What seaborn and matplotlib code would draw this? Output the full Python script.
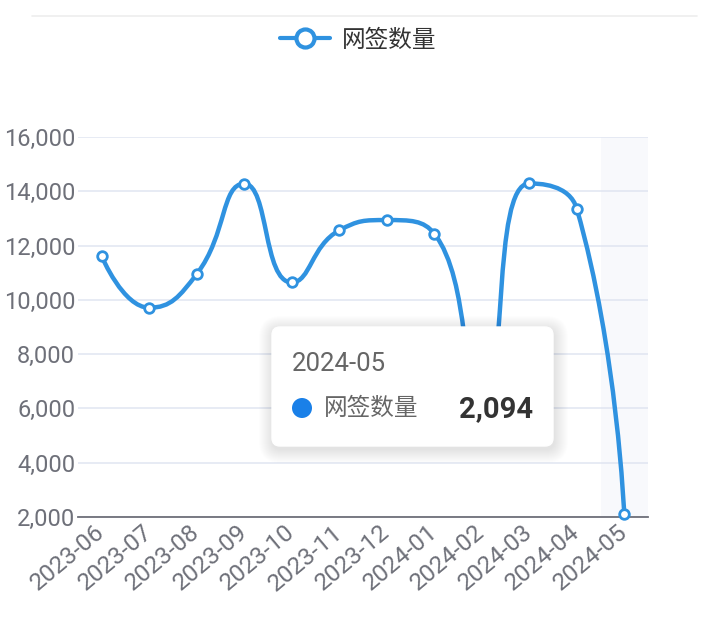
import numpy as np
import pandas as pd
import matplotlib
matplotlib.use("Agg")
import matplotlib.pyplot as plt
import seaborn as sns
from matplotlib.path import Path
from matplotlib.patches import PathPatch, FancyBboxPatch, Circle
from matplotlib.lines import Line2D

# ---------------- data ----------------
months = ["2023-06", "2023-07", "2023-08", "2023-09", "2023-10", "2023-11",
          "2023-12", "2024-01", "2024-02", "2024-03", "2024-04", "2024-05"]
counts = [11600, 9710, 10950, 14280, 10640, 12560,
          12940, 12440, 6400, 14290, 13360, 2094]
series_name = "网签数量"
y_ticks = [2000, 4000, 6000, 8000, 10000, 12000, 14000, 16000]
hover_index = 11

# ---------------- style ----------------
sns.set_theme(style="white")
plt.rcParams["font.family"] = ["Roboto", "Noto Sans CJK SC", "DejaVu Sans"]

LINE = "#2f92e0"
AXIS = "#6e7079"
GRID = "#e0e6f1"

W, H = 716, 635
fig = plt.figure(figsize=(W / 100, H / 100), dpi=100)
fig.patch.set_facecolor("white")

ax_l, ax_r, ax_t, ax_b = 78, 648, 137, 517
ax = fig.add_axes([ax_l / W, 1 - ax_b / H, (ax_r - ax_l) / W, (ax_b - ax_t) / H])
ax.set_facecolor("white")

df = pd.DataFrame({"idx": np.arange(len(months)), "month": months, "count": counts})

ax.set_xlim(-0.5, len(months) - 0.5)
ax.set_ylim(y_ticks[0], y_ticks[-1])

# axis pointer shadow
ax.axvspan(hover_index - 0.5, hover_index + 0.5, color=(0.88, 0.90, 0.95), alpha=0.22,
           lw=0, zorder=1)

# grid
ax.set_yticks(y_ticks)
ax.set_yticklabels([f"{v:,}" for v in y_ticks])
ax.yaxis.grid(True, color=GRID, lw=1.1, zorder=0.5)
ax.set_axisbelow(True)
ax.tick_params(axis="y", length=0, pad=2, labelsize=17, labelcolor=AXIS)

# x ticks: boundaries as major (marks), centers as minor (labels)
ax.set_xticks(np.arange(-0.5, len(months) + 0.5, 1.0))
ax.set_xticklabels([])
ax.set_xticks(np.arange(len(months)), minor=True)
ax.set_xticklabels(months, minor=True, rotation=40, ha="right", va="center",
                   rotation_mode="anchor")
ax.tick_params(axis="x", which="major", length=5, width=1.2, color=AXIS, direction="out")
ax.tick_params(axis="x", which="minor", length=0, pad=9, labelsize=17.5, labelcolor=AXIS)

for s in ["left", "right", "top"]:
    ax.spines[s].set_visible(False)
ax.spines["bottom"].set_color(AXIS)
ax.spines["bottom"].set_linewidth(1.3)
ax.spines["bottom"].set_zorder(2)

# ---------------- smooth line (echarts style bezier) ----------------
pos = ax.get_position()
sx = pos.width * W / len(months)
sy = pos.height * H / (y_ticks[-1] - y_ticks[0])


def echarts_smooth(xs, ys, smooth=0.5):
    n = len(xs)
    verts = [(xs[0], ys[0])]
    codes = [Path.MOVETO]
    cp0 = (xs[0], ys[0])
    for i in range(1, n):
        x, y = xs[i], ys[i]
        px_, py_ = xs[i - 1], ys[i - 1]
        if i == n - 1:
            ncp0 = (x, y)
            cp1 = (x, y)
        else:
            nx, ny = xs[i + 1], ys[i + 1]
            vx, vy = nx - px_, ny - py_
            lp = np.hypot(x - px_, y - py_)
            ln = np.hypot(nx - x, ny - y)
            r = ln / (ln + lp)
            c1x, c1y = x + vx * smooth * r, y + vy * smooth * r
            c1x = max(min(c1x, max(nx, x)), min(nx, x))
            c1y = max(min(c1y, max(ny, y)), min(ny, y))
            vx, vy = c1x - x, c1y - y
            c0x, c0y = x - vx * lp / ln, y - vy * lp / ln
            c0x = max(min(c0x, max(px_, x)), min(px_, x))
            c0y = max(min(c0y, max(py_, y)), min(py_, y))
            vx, vy = x - c0x, y - c0y
            c1x, c1y = x + vx * ln / lp, y + vy * ln / lp
            ncp0 = (c0x, c0y)
            cp1 = (c1x, c1y)
        verts += [cp0, ncp0, (x, y)]
        codes += [Path.CURVE4] * 3
        cp0 = cp1
    return verts, codes


X = df["idx"].to_numpy(float) * sx
Y = df["count"].to_numpy(float) * sy
verts, codes = echarts_smooth(X, Y)
verts = [(vx / sx, vy / sy) for vx, vy in verts]
ax.add_patch(PathPatch(Path(verts, codes), facecolor="none", edgecolor=LINE, lw=3.2,
                       capstyle="round", joinstyle="round", zorder=3))

sns.scatterplot(data=df, x="idx", y="count", ax=ax, s=48, marker="o",
                facecolor="white", edgecolor=LINE, linewidth=2.0, zorder=4,
                clip_on=False, legend=False)
ax.set_xlabel("")
ax.set_ylabel("")

# ---------------- legend ----------------
handle = Line2D([], [], color=LINE, lw=3.0, marker="o", markersize=13,
                markerfacecolor="white", markeredgecolor=LINE, markeredgewidth=3)
fig.legend(handles=[handle], labels=[series_name], loc="center",
           bbox_to_anchor=(358 / W, 1 - 40 / H), frameon=False, fontsize=17,
           handlelength=2.1, handletextpad=0.5, labelcolor="#333333")

# ---------------- overlay (top rule + tooltip) ----------------
ov = fig.add_axes([0, 0, 1, 1], zorder=10)
ov.set_xlim(0, W)
ov.set_ylim(H, 0)
ov.axis("off")
ov.patch.set_alpha(0)

ov.plot([32, 697], [16, 16], color="#eeeeee", lw=1.2)

bx0, by0, bx1, by1 = 272, 327, 553, 446
for s in range(1, 15):
    ov.add_patch(FancyBboxPatch((bx0 + 1 - s, by0 + 3 - s), (bx1 - bx0) + 2 * s,
                                (by1 - by0) + 2 * s,
                                boxstyle=f"round,pad=0,rounding_size={8 + s}",
                                facecolor="black", edgecolor="none", alpha=0.009))
ov.add_patch(FancyBboxPatch((bx0, by0), bx1 - bx0, by1 - by0,
                            boxstyle="round,pad=0,rounding_size=8",
                            facecolor="white", edgecolor="#ffffff", lw=1))
ov.text(292, 364, months[hover_index], ha="left", va="center", fontsize=18.5,
        color="#666666")
ov.add_patch(Circle((302, 408), 10, facecolor="#1a80e8", edgecolor="none"))
ov.text(324, 408, series_name, ha="left", va="center", fontsize=17, color="#666666")
ov.text(533, 409, f"{counts[hover_index]:,}", ha="right", va="center", fontsize=21,
        color="#333333", fontweight="bold")

fig.savefig("out.png", dpi=100, facecolor="white")
